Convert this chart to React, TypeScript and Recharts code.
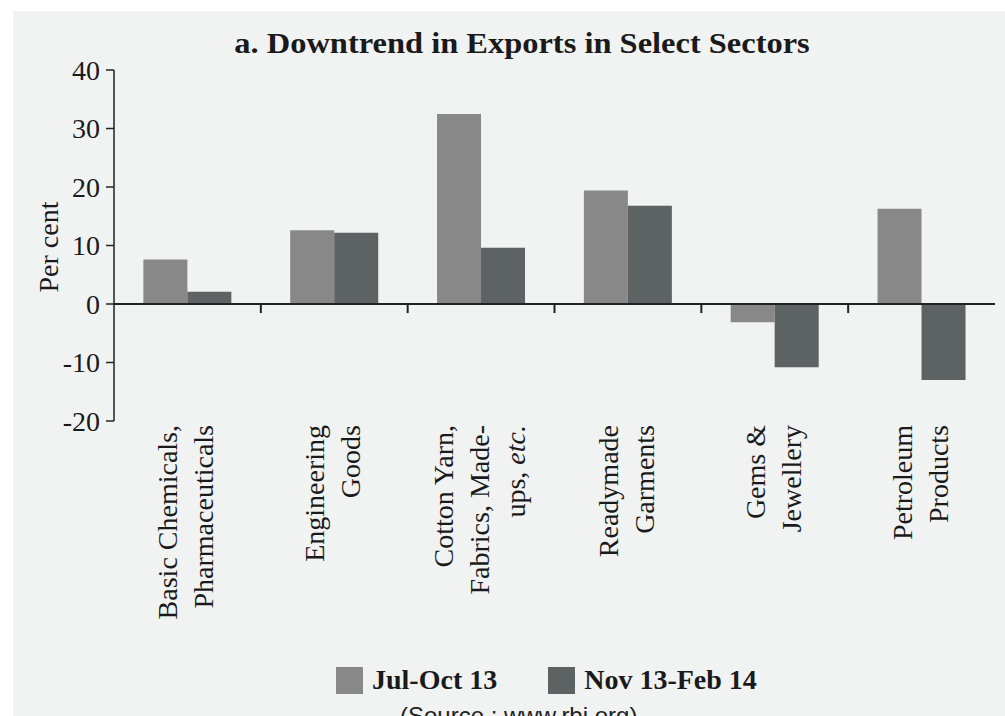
import React from 'react';
import { BarChart, Bar, XAxis, YAxis, ReferenceLine, Legend } from 'recharts';

const categories = [
  'Basic Chemicals, Pharmaceuticals',
  'Engineering Goods',
  'Cotton Yarn, Fabrics, Made-ups, etc.',
  'Readymade Garments',
  'Gems & Jewellery',
  'Petroleum Products',
];
const categoryLines: string[][] = [
  ['Basic Chemicals,', 'Pharmaceuticals'],
  ['Engineering', 'Goods'],
  ['Cotton Yarn,', 'Fabrics, Made-', 'ups, etc.'],
  ['Readymade', 'Garments'],
  ['Gems &', 'Jewellery'],
  ['Petroleum', 'Products'],
];
const julOct13 = [7.6, 12.6, 32.5, 19.4, -3.1, 16.3];
const nov13Feb14 = [2.1, 12.2, 9.6, 16.8, -10.8, -13.0];
const yTicks = [-20, -10, 0, 10, 20, 30, 40];

const data = categories.map((name, i) => ({
  name,
  julOct13: julOct13[i],
  nov13Feb14: nov13Feb14[i],
}));

const SERIF = '"Liberation Serif", "Times New Roman", serif';
const INK = '#1a1a1a';

const CategoryTick = (props: any) => {
  const { x, y, payload } = props;
  const idx = categories.indexOf(payload.value);
  const lines = categoryLines[idx] || [];
  const n = lines.length;
  return (
    <g>
      {lines.map((line, i) => {
        const bx = x + (i - (n - 1) / 2) * 36 + 8;
        const by = y + 4;
        const italicIdx = line.indexOf('etc.');
        return (
          <text
            key={i}
            x={bx}
            y={by}
            transform={`rotate(-90 ${bx} ${by})`}
            textAnchor="end"
            fontSize={28}
            fontFamily={SERIF}
            fill={INK}
          >
            {italicIdx >= 0 ? (
              <>
                <tspan>{line.slice(0, italicIdx)}</tspan>
                <tspan fontStyle="italic">{line.slice(italicIdx)}</tspan>
              </>
            ) : (
              line
            )}
          </text>
        );
      })}
    </g>
  );
};

const renderLegend = (props: any) => {
  const { payload } = props;
  return (
    <div style={{ display: 'flex', alignItems: 'center', lineHeight: '32px' }}>
      {(payload || []).map((entry: any, i: number) => (
        <div key={i} style={{ display: 'flex', alignItems: 'center', marginRight: 51 }}>
          <div style={{ width: 27, height: 27, background: entry.color, marginRight: 9 }} />
          <span style={{ fontFamily: SERIF, fontWeight: 'bold', fontSize: 28, color: INK, whiteSpace: 'nowrap' }}>
            {entry.value}
          </span>
        </div>
      ))}
    </div>
  );
};

export default function App() {
  return (
    <div style={{ position: 'absolute', left: 0, top: 0, width: 1005, height: 716, background: '#ffffff', overflow: 'hidden' }}>
      <div style={{ position: 'absolute', left: 13, top: 11, right: 0, bottom: 0, background: '#f1f2f2' }} />
      <div style={{ position: 'absolute', left: 0, top: 0 }}>
        <BarChart
          width={1005}
          height={716}
          data={data}
          margin={{ top: 70, right: 10, bottom: 265, left: 64 }}
          barCategoryGap="20%"
          barGap={0}
        >
          <XAxis
            xAxisId="cat"
            dataKey="name"
            height={30}
            axisLine={false}
            tickLine={false}
            tickSize={0}
            tickMargin={0}
            interval={0}
            tick={(p: any) => <CategoryTick {...p} />}
          />
          <YAxis
            width={50}
            domain={[-20, 40]}
            ticks={yTicks}
            interval={0}
            tickSize={8}
            tickMargin={6}
            axisLine={{ stroke: '#222', strokeWidth: 1.5 }}
            tickLine={{ stroke: '#222', strokeWidth: 1.5 }}
            tick={{ fontSize: 28, fill: INK, fontFamily: SERIF }}
          />
          <Legend
            layout="horizontal"
            verticalAlign="middle"
            align="center"
            content={renderLegend}
            wrapperStyle={{ left: 336, top: 664, width: 'auto' }}
          />
          <Bar xAxisId="cat" dataKey="julOct13" name="Jul-Oct 13" fill="#888888" isAnimationActive={false} />
          <Bar xAxisId="cat" dataKey="nov13Feb14" name="Nov 13-Feb 14" fill="#5d6262" isAnimationActive={false} />
          <ReferenceLine xAxisId="cat" y={0} stroke="#222" strokeWidth={2} />
          {categories.map((c) => (
            <ReferenceLine
              key={c}
              xAxisId="cat"
              position="end"
              segment={[{ x: c, y: 0 }, { x: c, y: -1.55 }]}
              stroke="#222"
              strokeWidth={2}
            />
          ))}
        </BarChart>
      </div>
      <svg
        width={1005}
        height={716}
        style={{ position: 'absolute', left: 0, top: 0, pointerEvents: 'none' }}
      >
        <text
          transform="translate(522 53) scale(1.12 1)"
          textAnchor="middle"
          fontSize={29}
          fontWeight="bold"
          fontFamily={SERIF}
          fill={INK}
        >
          a. Downtrend in Exports in Select Sectors
        </text>
        <text
          x={58}
          y={247}
          transform="rotate(-90 58 247)"
          textAnchor="middle"
          fontSize={28}
          fontFamily={SERIF}
          fill={INK}
        >
          Per cent
        </text>
        <text x={400} y={724} fontSize={24} fontFamily='"Liberation Sans", Arial, sans-serif' fill="#222">
          (Source : www.rbi.org)
        </text>
      </svg>
    </div>
  );
}
